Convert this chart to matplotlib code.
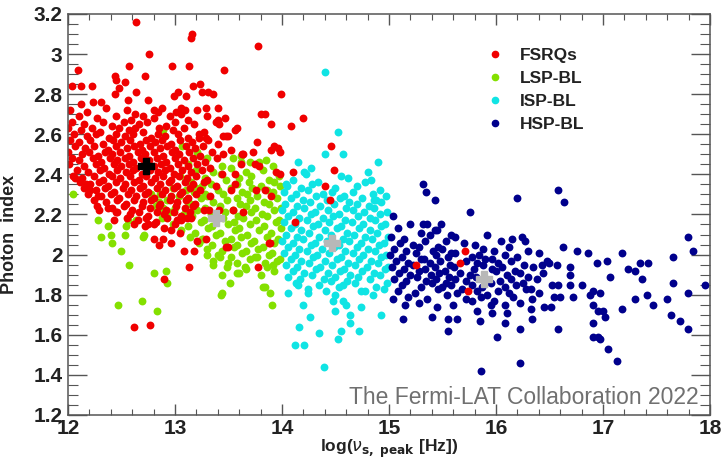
import matplotlib
matplotlib.use("Agg")
import matplotlib.pyplot as plt
from matplotlib.lines import Line2D
from matplotlib.ticker import MultipleLocator

plt.rcParams['font.family'] = ['Liberation Sans', 'DejaVu Sans']

# (log nu_peak, photon index), one list per class
fsrq_pts = [
    # sparse top / edges
    (12.64, 3.16), (13.16, 3.10), (13.15, 3.08), (12.76, 3.00), (13.78, 3.04), (12.57, 2.94),
    (12.97, 2.94), (13.13, 2.94), (13.46, 2.92), (12.09, 2.92), (12.44, 2.89), (12.45, 2.87),
    (12.72, 2.89), (12.04, 2.84), (12.12, 2.84), (12.22, 2.84), (12.53, 2.86), (12.48, 2.83),
    (12.44, 2.80), (12.64, 2.81), (13.17, 2.84), (13.03, 2.81), (12.99, 2.79), (13.10, 2.79),
    (13.25, 2.81), (13.36, 2.80), (13.23, 2.85), (13.31, 2.81), (13.99, 2.80), (12.56, 2.77),
    (12.75, 2.77), (12.80, 2.72), (12.84, 2.71), (12.12, 2.75), (12.23, 2.76), (12.31, 2.76),
    (13.06, 2.73), (13.01, 2.71), (13.09, 2.72), (13.29, 2.73), (13.40, 2.73), (13.40, 2.67),
    (13.41, 2.65), (13.22, 2.58), (13.29, 2.58), (13.48, 2.59), (13.63, 2.50),
    # right fringe
    (13.56, 2.62), (13.50, 2.59), (13.77, 2.56), (13.93, 2.54), (13.96, 2.53), (14.46, 2.54),
    (13.80, 2.70), (13.84, 2.70), (13.90, 2.65), (14.08, 2.64), (14.20, 2.68), (13.64, 2.50),
    (13.90, 2.52), (13.98, 2.51), (13.62, 2.45), (13.75, 2.45), (13.79, 2.44), (13.94, 2.41),
    (13.98, 2.40), (14.10, 2.41), (14.49, 2.42), (14.40, 2.34), (14.45, 2.27), (13.56, 2.40),
    (13.56, 2.35), (13.52, 2.32), (13.76, 2.32), (13.84, 2.32), (13.90, 2.29), (13.54, 2.22),
    (13.64, 2.21), (14.12, 2.16), (13.89, 2.06), (13.50, 2.04), (13.78, 1.94), (13.73, 2.51),
    (13.88, 2.06),
    # lower fringe
    (12.07, 2.38), (12.28, 2.29), (12.17, 2.35), (12.21, 2.32), (12.29, 2.22), (12.37, 2.23),
    (12.45, 2.21), (12.43, 2.17), (12.75, 2.15), (12.80, 2.08), (12.89, 2.08), (12.85, 2.05),
    (12.96, 2.12), (13.08, 2.02), (13.18, 2.02), (13.13, 1.94), (12.90, 1.88), (13.21, 2.07),
    (13.29, 2.08), (13.32, 2.22), (13.41, 2.22), (13.06, 2.17), (13.15, 2.18), (12.96, 2.06),
    (13.05, 2.11), (13.48, 2.04), (12.62, 1.64), (12.77, 1.65),
    # among the HSP blazars
    (15.25, 1.95), (15.66, 1.96), (15.71, 2.02), (15.74, 1.82),
    # dense core
    (12.02, 2.72), (12.18, 2.71), (12.36, 2.73), (12.55, 2.72), (12.63, 2.70), (12.88, 2.73),
    (13.06, 2.70), (13.21, 2.72),
    (12.10, 2.69), (12.27, 2.68), (12.45, 2.69), (12.59, 2.67), (12.70, 2.69), (12.80, 2.68),
    (12.95, 2.69), (13.12, 2.67), (13.30, 2.69), (13.47, 2.68),
    (12.04, 2.66), (12.15, 2.65), (12.33, 2.66), (12.41, 2.64), (12.52, 2.66), (12.66, 2.65),
    (12.74, 2.66), (12.92, 2.64), (13.00, 2.66), (13.18, 2.65), (13.38, 2.66),
    (12.00, 2.63), (12.12, 2.62), (12.22, 2.63), (12.30, 2.61), (12.48, 2.63), (12.57, 2.62),
    (12.63, 2.63), (12.70, 2.61), (12.85, 2.63), (12.98, 2.62), (13.08, 2.63), (13.27, 2.61),
    (13.58, 2.63),
    (12.06, 2.60), (12.18, 2.59), (12.26, 2.60), (12.38, 2.58), (12.45, 2.60), (12.53, 2.59),
    (12.61, 2.60), (12.78, 2.58), (12.84, 2.60), (12.91, 2.59), (13.03, 2.60), (13.12, 2.58),
    (13.22, 2.60), (13.45, 2.59),
    (12.02, 2.57), (12.10, 2.56), (12.21, 2.57), (12.33, 2.55), (12.42, 2.57), (12.50, 2.56),
    (12.58, 2.57), (12.67, 2.55), (12.73, 2.57), (12.81, 2.56), (12.88, 2.57), (12.96, 2.55),
    (13.05, 2.57), (13.16, 2.56), (13.31, 2.57), (13.40, 2.55),
    (12.07, 2.54), (12.16, 2.53), (12.24, 2.54), (12.37, 2.52), (12.45, 2.54), (12.55, 2.53),
    (12.62, 2.54), (12.69, 2.52), (12.77, 2.54), (12.86, 2.53), (12.93, 2.54), (13.00, 2.52),
    (13.10, 2.54), (13.19, 2.53), (13.26, 2.54), (13.52, 2.52),
    (12.00, 2.51), (12.13, 2.50), (12.20, 2.51), (12.28, 2.49), (12.35, 2.51), (12.41, 2.50),
    (12.49, 2.51), (12.57, 2.49), (12.65, 2.51), (12.72, 2.50), (12.80, 2.51), (12.89, 2.49),
    (12.97, 2.51), (13.04, 2.50), (13.13, 2.51), (13.23, 2.49), (13.35, 2.51), (13.45, 2.50),
    (12.04, 2.48), (12.10, 2.47), (12.23, 2.48), (12.31, 2.46), (12.39, 2.48), (12.46, 2.47),
    (12.53, 2.48), (12.61, 2.46), (12.68, 2.48), (12.76, 2.47), (12.83, 2.48), (12.92, 2.46),
    (13.00, 2.48), (13.08, 2.47), (13.17, 2.48), (13.28, 2.46), (13.39, 2.48),
    (12.01, 2.45), (12.15, 2.44), (12.26, 2.45), (12.34, 2.43), (12.43, 2.45), (12.50, 2.44),
    (12.57, 2.45), (12.64, 2.43), (12.71, 2.45), (12.80, 2.44), (12.87, 2.45), (12.95, 2.43),
    (13.03, 2.45), (13.12, 2.44), (13.21, 2.45), (13.33, 2.43),
    (12.08, 2.42), (12.19, 2.41), (12.30, 2.42), (12.38, 2.40), (12.46, 2.42), (12.54, 2.41),
    (12.61, 2.42), (12.69, 2.40), (12.77, 2.42), (12.84, 2.41), (12.91, 2.42), (12.99, 2.40),
    (13.07, 2.42), (13.15, 2.41), (13.25, 2.42), (13.44, 2.40),
    (12.05, 2.39), (12.13, 2.38), (12.24, 2.39), (12.33, 2.37), (12.41, 2.39), (12.49, 2.38),
    (12.58, 2.39), (12.66, 2.37), (12.73, 2.39), (12.81, 2.38), (12.89, 2.39), (12.96, 2.37),
    (13.04, 2.39), (13.11, 2.38), (13.20, 2.39), (13.30, 2.37),
    (12.11, 2.36), (12.21, 2.35), (12.29, 2.36), (12.37, 2.34), (12.45, 2.36), (12.53, 2.35),
    (12.62, 2.36), (12.70, 2.34), (12.78, 2.36), (12.86, 2.35), (12.94, 2.36), (13.02, 2.34),
    (13.09, 2.36), (13.17, 2.35), (13.27, 2.36), (13.38, 2.34),
    (12.15, 2.33), (12.26, 2.32), (12.35, 2.33), (12.43, 2.31), (12.51, 2.33), (12.59, 2.32),
    (12.67, 2.33), (12.75, 2.31), (12.83, 2.33), (12.91, 2.32), (12.99, 2.33), (13.07, 2.31),
    (13.14, 2.33), (13.23, 2.32),
    (12.19, 2.30), (12.31, 2.29), (12.40, 2.30), (12.48, 2.28), (12.56, 2.30), (12.64, 2.29),
    (12.72, 2.30), (12.80, 2.28), (12.88, 2.30), (12.96, 2.29), (13.05, 2.30), (13.12, 2.28),
    (13.20, 2.30), (13.33, 2.29),
    (12.24, 2.27), (12.36, 2.26), (12.46, 2.27), (12.54, 2.25), (12.62, 2.27), (12.70, 2.26),
    (12.78, 2.27), (12.86, 2.25), (12.95, 2.27), (13.02, 2.26), (13.10, 2.27), (13.19, 2.25),
    (12.27, 2.24), (12.41, 2.23), (12.52, 2.24), (12.60, 2.22), (12.69, 2.24), (12.77, 2.23),
    (12.85, 2.24), (12.92, 2.22), (13.01, 2.24), (13.09, 2.23), (13.17, 2.24), (13.27, 2.22),
    (12.46, 2.21), (12.58, 2.20), (12.66, 2.21), (12.75, 2.19), (12.83, 2.21), (12.90, 2.20),
    (12.99, 2.21), (13.06, 2.19), (13.14, 2.21),
    (12.55, 2.18), (12.65, 2.17), (12.73, 2.18), (12.82, 2.16), (12.93, 2.18), (13.02, 2.17),
    (13.11, 2.18),
    (12.62, 2.15), (12.72, 2.14), (12.80, 2.15), (12.90, 2.13), (13.00, 2.15),
]

lsp_pts = [
    # sparse
    (12.05, 2.30), (12.28, 2.17), (12.37, 2.14), (12.40, 2.10), (12.31, 2.09), (12.56, 2.17),
    (12.54, 2.14), (12.64, 2.17), (12.70, 2.09), (12.71, 2.10), (12.50, 2.02), (12.57, 1.95),
    (12.80, 1.91), (12.47, 1.75), (12.69, 1.77), (12.83, 1.72), (12.93, 1.86), (13.43, 1.80),
    (12.41, 2.06), (12.53, 2.10), (12.92, 1.92), (13.84, 1.84), (13.89, 1.81), (13.91, 1.75),
    (13.25, 2.08), (13.30, 2.00), (13.36, 1.95), (13.42, 1.99), (13.50, 1.96), (13.51, 1.86),
    (13.44, 1.90), (13.44, 1.81), (13.58, 1.91), (13.65, 1.94), (13.77, 1.99), (13.86, 1.94),
    (13.82, 1.84), (13.93, 1.92), (12.78, 2.30), (12.85, 2.26), (12.89, 2.23), (13.20, 2.33),
    (13.28, 2.30), (12.89, 2.62), (13.07, 2.54), (13.21, 2.51), (13.54, 2.48), (13.62, 2.46),
    (13.79, 2.46),
    # dense
    (13.30, 2.48), (13.62, 2.49), (13.85, 2.47),
    (13.12, 2.45), (13.44, 2.44), (13.70, 2.46), (13.92, 2.44),
    (13.20, 2.42), (13.36, 2.41), (13.52, 2.43), (13.66, 2.41), (13.82, 2.42),
    (13.05, 2.39), (13.28, 2.38), (13.43, 2.40), (13.60, 2.38), (13.71, 2.39), (13.88, 2.37),
    (13.97, 2.39),
    (13.15, 2.36), (13.34, 2.35), (13.48, 2.37), (13.58, 2.35), (13.69, 2.36), (13.80, 2.34),
    (13.93, 2.36),
    (12.98, 2.33), (13.10, 2.32), (13.25, 2.34), (13.40, 2.32), (13.52, 2.33), (13.63, 2.31),
    (13.72, 2.33), (13.86, 2.32), (13.98, 2.34),
    (12.86, 2.30), (13.04, 2.29), (13.18, 2.31), (13.30, 2.29), (13.45, 2.30), (13.58, 2.28),
    (13.67, 2.30), (13.77, 2.29), (13.92, 2.31),
    (12.93, 2.27), (13.12, 2.26), (13.24, 2.28), (13.36, 2.26), (13.49, 2.27), (13.61, 2.25),
    (13.70, 2.27), (13.83, 2.26), (13.95, 2.28),
    (12.82, 2.24), (13.00, 2.23), (13.15, 2.25), (13.28, 2.23), (13.42, 2.24), (13.54, 2.22),
    (13.66, 2.24), (13.75, 2.23), (13.88, 2.25), (13.99, 2.23),
    (12.95, 2.21), (13.08, 2.20), (13.21, 2.22), (13.34, 2.20), (13.47, 2.21), (13.59, 2.19),
    (13.71, 2.21), (13.81, 2.20), (13.93, 2.22),
    (12.88, 2.18), (13.03, 2.17), (13.16, 2.19), (13.27, 2.17), (13.45, 2.18), (13.55, 2.16),
    (13.64, 2.18), (13.76, 2.17), (13.86, 2.19), (13.97, 2.17),
    (12.98, 2.15), (13.12, 2.14), (13.24, 2.16), (13.35, 2.14), (13.50, 2.15), (13.60, 2.13),
    (13.70, 2.15), (13.83, 2.14), (13.94, 2.16),
    (13.06, 2.12), (13.19, 2.11), (13.31, 2.13), (13.42, 2.11), (13.56, 2.12), (13.67, 2.10),
    (13.79, 2.12), (13.90, 2.11), (13.99, 2.13),
    (13.14, 2.09), (13.26, 2.08), (13.38, 2.10), (13.52, 2.08), (13.62, 2.09), (13.74, 2.07),
    (13.86, 2.09), (13.96, 2.08),
    (13.22, 2.06), (13.35, 2.05), (13.47, 2.07), (13.58, 2.05), (13.71, 2.06), (13.82, 2.04),
    (13.93, 2.06),
    (13.30, 2.03), (13.44, 2.02), (13.55, 2.04), (13.66, 2.02), (13.78, 2.03), (13.91, 2.01),
    (13.40, 2.00), (13.52, 1.99), (13.63, 2.01), (13.75, 1.99), (13.88, 2.00), (13.98, 1.98),
    (13.36, 1.97), (13.58, 1.96), (13.70, 1.98), (13.84, 1.96), (13.95, 1.97),
    (13.49, 1.94), (13.66, 1.93), (13.92, 1.95),
    (13.60, 1.91), (13.80, 1.90),
]

isp_pts = [
    # sparse
    (14.40, 2.91), (14.52, 2.61), (14.40, 2.50), (14.57, 2.50), (14.15, 2.46), (14.21, 2.41),
    (14.27, 2.43), (14.90, 2.46), (14.04, 2.35), (14.86, 2.27), (14.06, 1.81), (14.15, 1.85),
    (14.24, 1.81), (14.20, 1.75), (14.16, 1.64), (14.12, 1.55), (14.21, 1.55), (14.39, 1.44),
    (14.26, 1.69), (14.35, 1.61), (14.50, 1.80), (14.48, 1.77), (14.57, 1.77), (14.60, 1.75),
    (14.50, 1.72), (14.64, 1.70), (14.64, 1.66), (14.55, 1.62), (14.72, 1.62), (14.52, 1.58),
    (14.74, 1.74), (14.93, 1.70), (14.78, 1.82), (14.85, 1.80),
    # dense
    (14.22, 2.40), (14.55, 2.39), (14.80, 2.41),
    (14.10, 2.37), (14.34, 2.36), (14.62, 2.38), (14.78, 2.36), (14.83, 2.37),
    (14.05, 2.34), (14.18, 2.33), (14.28, 2.35), (14.50, 2.33), (14.70, 2.34), (14.92, 2.32),
    (14.02, 2.31), (14.13, 2.30), (14.24, 2.32), (14.38, 2.30), (14.47, 2.31), (14.58, 2.29),
    (14.66, 2.31), (14.85, 2.30),
    (14.08, 2.28), (14.20, 2.27), (14.32, 2.29), (14.42, 2.27), (14.54, 2.28), (14.63, 2.26),
    (14.75, 2.28), (14.88, 2.27), (14.97, 2.29),
    (14.03, 2.25), (14.14, 2.24), (14.26, 2.26), (14.36, 2.24), (14.49, 2.25), (14.60, 2.23),
    (14.70, 2.25), (14.81, 2.24), (14.93, 2.26),
    (14.00, 2.22), (14.10, 2.21), (14.21, 2.23), (14.31, 2.21), (14.43, 2.22), (14.53, 2.20),
    (14.66, 2.22), (14.77, 2.21), (14.86, 2.23), (14.98, 2.21),
    (14.06, 2.19), (14.16, 2.18), (14.27, 2.20), (14.38, 2.18), (14.48, 2.19), (14.59, 2.17),
    (14.71, 2.19), (14.82, 2.18), (14.92, 2.20),
    (14.02, 2.16), (14.12, 2.15), (14.23, 2.17), (14.34, 2.15), (14.44, 2.16), (14.55, 2.14),
    (14.65, 2.16), (14.76, 2.15), (14.87, 2.17), (14.96, 2.15),
    (14.08, 2.13), (14.18, 2.12), (14.29, 2.14), (14.40, 2.12), (14.51, 2.13), (14.61, 2.11),
    (14.72, 2.13), (14.82, 2.12), (14.93, 2.14),
    (14.04, 2.10), (14.14, 2.09), (14.25, 2.11), (14.35, 2.09), (14.46, 2.10), (14.57, 2.08),
    (14.67, 2.10), (14.78, 2.09), (14.89, 2.11), (14.99, 2.09),
    (14.00, 2.07), (14.10, 2.06), (14.20, 2.08), (14.31, 2.06), (14.42, 2.07), (14.53, 2.05),
    (14.63, 2.07), (14.74, 2.06), (14.84, 2.08), (14.95, 2.06),
    (14.06, 2.04), (14.16, 2.03), (14.27, 2.05), (14.37, 2.03), (14.49, 2.04), (14.59, 2.02),
    (14.70, 2.04), (14.80, 2.03), (14.91, 2.05),
    (14.02, 2.01), (14.12, 2.00), (14.23, 2.02), (14.33, 2.00), (14.44, 2.01), (14.55, 1.99),
    (14.66, 2.01), (14.76, 2.00), (14.87, 2.02), (14.97, 2.00),
    (14.08, 1.98), (14.18, 1.97), (14.29, 1.99), (14.40, 1.97), (14.51, 1.98), (14.62, 1.96),
    (14.72, 1.98), (14.83, 1.97), (14.93, 1.99),
    (14.04, 1.95), (14.14, 1.94), (14.25, 1.96), (14.36, 1.94), (14.47, 1.95), (14.58, 1.93),
    (14.68, 1.95), (14.79, 1.94), (14.90, 1.96), (14.99, 1.94),
    (14.10, 1.92), (14.21, 1.91), (14.32, 1.93), (14.43, 1.91), (14.54, 1.92), (14.64, 1.90),
    (14.75, 1.92), (14.86, 1.91), (14.96, 1.93),
    (14.06, 1.89), (14.17, 1.88), (14.28, 1.90), (14.39, 1.88), (14.50, 1.89), (14.61, 1.87),
    (14.71, 1.89), (14.82, 1.88), (14.92, 1.90),
    (14.13, 1.86), (14.35, 1.85), (14.46, 1.87), (14.57, 1.85), (14.68, 1.86), (14.88, 1.84),
    (14.98, 1.86),
    (14.24, 1.83), (14.41, 1.82), (14.53, 1.84), (14.74, 1.82), (14.95, 1.83),
]

hsp_pts = [
    # sparse
    (15.32, 2.35), (15.35, 2.31), (15.43, 2.27), (15.76, 2.21), (16.20, 2.28), (16.58, 2.32),
    (16.64, 2.26), (15.04, 2.19), (15.20, 2.15), (15.32, 2.15), (15.36, 2.15), (15.49, 2.15),
    (15.43, 2.12), (16.63, 2.04), (16.76, 2.02), (16.86, 2.01), (17.18, 2.01), (17.79, 2.09),
    (17.84, 2.02), (17.65, 1.99), (17.42, 1.96), (17.35, 1.96), (16.94, 1.96), (17.04, 1.97),
    (17.23, 1.93), (17.30, 1.92), (17.36, 1.88), (17.07, 1.89), (17.65, 1.86), (17.79, 1.81),
    (17.95, 1.85), (17.41, 1.80), (17.60, 1.78), (17.47, 1.75), (17.30, 1.78), (17.18, 1.73),
    (17.64, 1.70), (17.72, 1.67), (17.79, 1.63), (17.00, 1.72), (17.02, 1.69), (16.91, 1.66),
    (16.91, 1.59), (16.95, 1.59), (16.97, 1.58), (17.05, 1.53), (17.13, 1.47), (16.58, 1.63),
    (16.69, 1.94), (16.69, 1.90), (16.48, 1.97), (16.50, 1.96), (16.57, 1.95), (16.43, 1.95),
    (16.22, 1.46), (15.86, 1.42), (16.01, 1.59), (16.22, 1.63), (16.08, 1.66), (15.85, 1.67),
    (15.96, 1.71), (15.82, 1.72), (15.55, 1.68), (15.64, 1.68), (15.55, 1.62), (15.45, 1.74),
    (15.40, 1.69), (15.13, 1.68), (15.15, 1.75), (15.04, 1.78), (16.34, 1.68), (16.33, 1.73),
    (16.10, 1.71), (16.08, 1.75), (16.58, 1.85), (16.69, 1.85), (16.80, 1.85), (16.91, 1.82),
    (16.97, 1.81), (16.88, 1.80), (16.72, 1.79), (16.60, 1.79), (16.54, 1.79), (16.91, 1.75),
    (16.95, 1.72), (16.51, 1.74),
    # dense
    (15.08, 2.13), (15.30, 2.11), (15.45, 2.12), (15.58, 2.10),
    (15.02, 2.09), (15.14, 2.08), (15.38, 2.10), (15.53, 2.07), (15.62, 2.09), (15.92, 2.10),
    (16.15, 2.08), (16.24, 2.09), (16.27, 2.07),
    (15.10, 2.06), (15.22, 2.05), (15.34, 2.07), (15.46, 2.04), (15.70, 2.06), (15.80, 2.05),
    (16.05, 2.07),
    (15.05, 2.03), (15.16, 2.02), (15.28, 2.04), (15.41, 2.02), (15.50, 2.03), (15.58, 2.01),
    (15.88, 2.03), (15.98, 2.02), (16.12, 2.04), (16.30, 2.02),
    (15.01, 2.00), (15.12, 1.99), (15.25, 2.01), (15.33, 1.98), (15.44, 2.00), (15.55, 1.99),
    (15.62, 2.01), (15.78, 1.99), (15.84, 2.00), (15.96, 1.98), (16.08, 2.00), (16.20, 1.99),
    (16.40, 2.01),
    (15.07, 1.97), (15.18, 1.96), (15.30, 1.98), (15.38, 1.96), (15.48, 1.97), (15.57, 1.95),
    (15.72, 1.97), (15.82, 1.96), (15.90, 1.98), (16.02, 1.96), (16.14, 1.97), (16.26, 1.95),
    (15.03, 1.94), (15.14, 1.93), (15.22, 1.95), (15.34, 1.93), (15.43, 1.94), (15.52, 1.92),
    (15.61, 1.94), (15.79, 1.93), (15.88, 1.95), (15.96, 1.93), (16.06, 1.94), (16.18, 1.92),
    (16.35, 1.94),
    (15.09, 1.91), (15.20, 1.90), (15.28, 1.92), (15.39, 1.90), (15.47, 1.91), (15.56, 1.89),
    (15.66, 1.91), (15.76, 1.90), (16.00, 1.92), (16.10, 1.90), (16.22, 1.91), (16.30, 1.89),
    (16.44, 1.91),
    (15.05, 1.88), (15.16, 1.87), (15.26, 1.89), (15.35, 1.87), (15.44, 1.88), (15.53, 1.86),
    (15.62, 1.88), (15.72, 1.87), (15.81, 1.89), (16.04, 1.87), (16.14, 1.88), (16.25, 1.86),
    (16.38, 1.88),
    (15.12, 1.85), (15.30, 1.84), (15.40, 1.86), (15.50, 1.84), (15.58, 1.85), (15.68, 1.83),
    (15.78, 1.85), (15.87, 1.84), (15.95, 1.86), (16.08, 1.84), (16.19, 1.85), (16.33, 1.83),
    (16.52, 1.85),
    (15.08, 1.82), (15.24, 1.81), (15.46, 1.83), (15.64, 1.81), (15.82, 1.82), (15.92, 1.80),
    (16.02, 1.82), (16.12, 1.81), (16.28, 1.83), (16.40, 1.81),
    (15.18, 1.79), (15.36, 1.78), (15.54, 1.80), (15.72, 1.78), (15.86, 1.79), (15.98, 1.77),
    (16.16, 1.79), (16.34, 1.78),
    (15.28, 1.76), (15.60, 1.75), (15.78, 1.77), (15.95, 1.75), (16.22, 1.76), (16.45, 1.74),
]

class_names = ['FSRQs', 'LSP-BL', 'ISP-BL', 'HSP-BL']
class_colors = ['#f00000', '#84e000', '#10e4e4', '#00008c']
# class averages (big crosses)
mean_x = [12.73, 13.38, 14.47, 15.89]
mean_y = [2.44, 2.18, 2.06, 1.88]
mean_colors = ['black', '#b8b8b8', '#b8b8b8', '#b8b8b8']

fig = plt.figure(figsize=(7.23, 4.61), dpi=100)
ax = fig.add_axes([0.094, 0.0998, 0.888, 0.870])

groups = [fsrq_pts, lsp_pts, isp_pts, hsp_pts]
# draw FSRQs last so they sit on top like in the original
for idx in [1, 2, 3, 0]:
    xs = [p[0] for p in groups[idx]]
    ys = [p[1] for p in groups[idx]]
    ax.scatter(xs, ys, s=32, c=class_colors[idx], linewidths=0, zorder=2)

for mx, my, mc in zip(mean_x, mean_y, mean_colors):
    ax.plot(mx, my, marker='P', ms=12, color=mc, mec=mc, zorder=4)

ax.set_xlim(12, 18)
ax.set_ylim(1.2, 3.2)
ax.xaxis.set_major_locator(MultipleLocator(1))
ax.xaxis.set_minor_locator(MultipleLocator(0.2))
ax.yaxis.set_major_locator(MultipleLocator(0.2))
ax.yaxis.set_minor_locator(MultipleLocator(0.05))
ax.set_yticks([1.2, 1.4, 1.6, 1.8, 2.0, 2.2, 2.4, 2.6, 2.8, 3.0, 3.2])
ax.set_yticklabels(['1.2', '1.4', '1.6', '1.8', '2', '2.2', '2.4', '2.6', '2.8', '3', '3.2'])

frame_col = '#555555'
for sp in ax.spines.values():
    sp.set_color(frame_col)
    sp.set_linewidth(1.1)
ax.tick_params(axis='both', which='both', direction='in', top=True, right=True, color=frame_col)
ax.tick_params(axis='y', which='major', length=14, width=1.0, pad=4)
ax.tick_params(axis='y', which='minor', length=7, width=0.8)
ax.tick_params(axis='x', which='major', length=8, width=1.0, pad=3)
ax.tick_params(axis='x', which='minor', length=4, width=0.8)
for lab in ax.get_xticklabels() + ax.get_yticklabels():
    lab.set_fontsize(15)
    lab.set_fontweight('bold')
    lab.set_color('#222222')

ax.set_ylabel('Photon  index', fontsize=13, fontweight='bold', color='#222222')
ax.yaxis.set_label_coords(-0.078, 0.45)
ax.set_xlabel(r'log($\nu_{\mathbf{s,\ peak}}$ [Hz])', fontsize=12.5, fontweight='bold',
              color='#222222')
ax.xaxis.set_label_coords(0.5, -0.058)

handles = [Line2D([], [], ls='none', marker='o', ms=4.5, color=c) for c in class_colors]
leg = ax.legend(handles, class_names, loc='upper left', bbox_to_anchor=(0.625, 0.955),
                frameon=False, prop={'weight': 'bold', 'size': 12.5},
                handletextpad=0.8, labelspacing=0.45, handlelength=1.2)
for t in leg.get_texts():
    t.set_color('#222222')

ax.text(0.983, 0.015, 'The Fermi-LAT Collaboration 2022', transform=ax.transAxes,
        ha='right', va='bottom', fontsize=16.5, color='#707070', zorder=5)

fig.savefig('out.png', dpi=100)
